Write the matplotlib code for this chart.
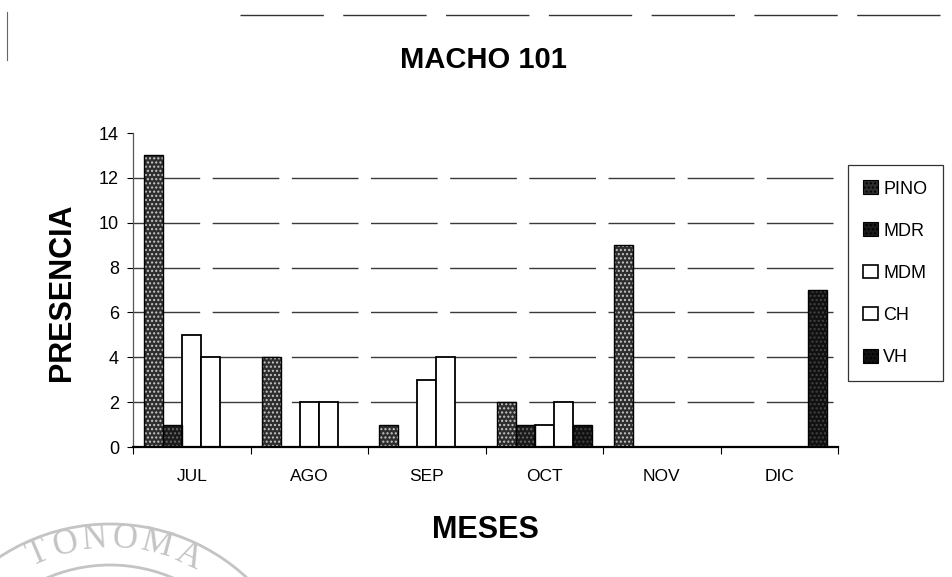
import numpy as np
import matplotlib
matplotlib.use("Agg")
import matplotlib.pyplot as plt
from matplotlib.patches import Patch, Arc
from matplotlib.lines import Line2D
from matplotlib.transforms import IdentityTransform

plt.rcParams['font.family'] = ['Liberation Sans', 'DejaVu Sans']

months = ["JUL", "AGO", "SEP", "OCT", "NOV", "DIC"]
pino = [13, 4, 1, 2, 9, 0]
mdr = [1, 0, 0, 1, 0, 0]
mdm = [5, 2, 3, 1, 0, 0]
ch = [4, 2, 4, 2, 0, 0]
vh = [0, 0, 0, 1, 0, 7]
series_names = ["PINO", "MDR", "MDM", "CH", "VH"]
series_values = [pino, mdr, mdm, ch, vh]
y_ticks = [0, 2, 4, 6, 8, 10, 12, 14]

# fill style per series: (face, hatch colour, hatch)
styles = [
    ("#2e2e2e", "#c8c8c8", "...."),
    ("#1a1a1a", "#6a6a6a", "...."),
    ("white", None, None),
    ("white", None, None),
    ("#111111", "#444444", "...."),
]

W, H = 952, 577
fig = plt.figure(figsize=(W / 100, H / 100), dpi=100)
ax = fig.add_axes([133 / W, 1 - 447 / H, 705 / W, 314 / H])

x = np.arange(len(months))
n = len(series_names)
bw = 0.162
offsets = (np.arange(n) - (n - 1) / 2) * bw

# broken horizontal gridlines
for yv in y_ticks[1:-1]:
    ax.axhline(yv, color="#3a3a3a", lw=1.0, dashes=(48, 9), zorder=0.5)

for j, (name, vals) in enumerate(zip(series_names, series_values)):
    face, hcol, hatch = styles[j]
    if hatch:
        ax.bar(x + offsets[j], vals, width=bw, color=face, edgecolor=hcol,
               hatch=hatch, linewidth=0, zorder=2)
        ax.bar(x + offsets[j], vals, width=bw, fill=False, edgecolor="black",
               linewidth=1.0, zorder=3)
    else:
        ax.bar(x + offsets[j], vals, width=bw, color=face, edgecolor="black",
               linewidth=1.3, zorder=2)

ax.set_xlim(-0.5, len(months) - 0.5)
ax.set_ylim(0, 14)
ax.set_yticks(y_ticks)
ax.set_yticklabels([str(v) for v in y_ticks], fontsize=13)
ax.set_xticks(np.arange(len(months) + 1) - 0.5)
ax.set_xticklabels([])
ax.set_xticks(x, minor=True)
ax.set_xticklabels(months, minor=True, fontsize=12.5)
ax.tick_params(axis="x", which="major", direction="out", length=5, width=0.8)
ax.tick_params(axis="x", which="minor", length=0, pad=16)
ax.tick_params(axis="y", direction="out", length=4, width=0.8, pad=6)
for s in ["top", "right"]:
    ax.spines[s].set_visible(False)
ax.spines["left"].set_linewidth(0.9)
ax.spines["left"].set_color("#555555")
ax.spines["bottom"].set_linewidth(1.6)

fig.text(483 / W, 1 - 60 / H, "MACHO 101", ha="center", va="center",
         fontsize=21, fontweight="bold")
fig.text(62 / W, 1 - 292 / H, "PRESENCIA", ha="center", va="center",
         fontsize=22, fontweight="bold", rotation=90)
fig.text(485 / W, 1 - 530 / H, "MESES", ha="center", va="center",
         fontsize=22, fontweight="bold")

# legend
handles = []
for j, name in enumerate(series_names):
    face, hcol, hatch = styles[j]
    if hatch:
        handles.append(Patch(facecolor=face, edgecolor="black", hatch=hatch, linewidth=0.8))
    else:
        handles.append(Patch(facecolor=face, edgecolor="black", linewidth=1.2))
leg = fig.legend(handles, series_names, loc="upper left",
                 bbox_to_anchor=(848 / W, 1 - 165 / H), fontsize=13,
                 frameon=True, fancybox=False, edgecolor="black",
                 handlelength=0.8, handleheight=0.8, handletextpad=0.3,
                 labelspacing=1.38, borderpad=0.85, borderaxespad=0)
leg.get_frame().set_linewidth(0.9)

# page marks around the chart
fig.add_artist(Line2D([240 / W, 1.0], [1 - 15 / H, 1 - 15 / H], color="#333333",
                      lw=1.0, dashes=(60, 14)))
fig.add_artist(Line2D([7 / W, 7 / W], [1 - 12 / H, 1 - 60 / H], color="#666666", lw=0.8))

# university seal at the lower left corner
cx, cy = 110, H - 725
tr = IdentityTransform()
for r in (201, 160):
    fig.add_artist(Arc((cx, cy), 2 * r, 2 * r, theta1=40, theta2=140,
                       transform=tr, color="#c4c4c4", lw=2.0))
seal_letters = ["T", "O", "N", "O", "M", "A"]
seal_angles = [-23, -13.8, -4.6, 4.6, 14.6, 25]
rr = 186
for ch_, ang in zip(seal_letters, seal_angles):
    t = np.deg2rad(ang)
    px = cx + rr * np.sin(t)
    py = cy + rr * np.cos(t)
    fig.text(px, py, ch_, transform=tr, ha="center", va="center",
             rotation=-ang, fontsize=25, family="Liberation Serif",
             color="#c4c4c4")

fig.savefig("out.png", dpi=100)
